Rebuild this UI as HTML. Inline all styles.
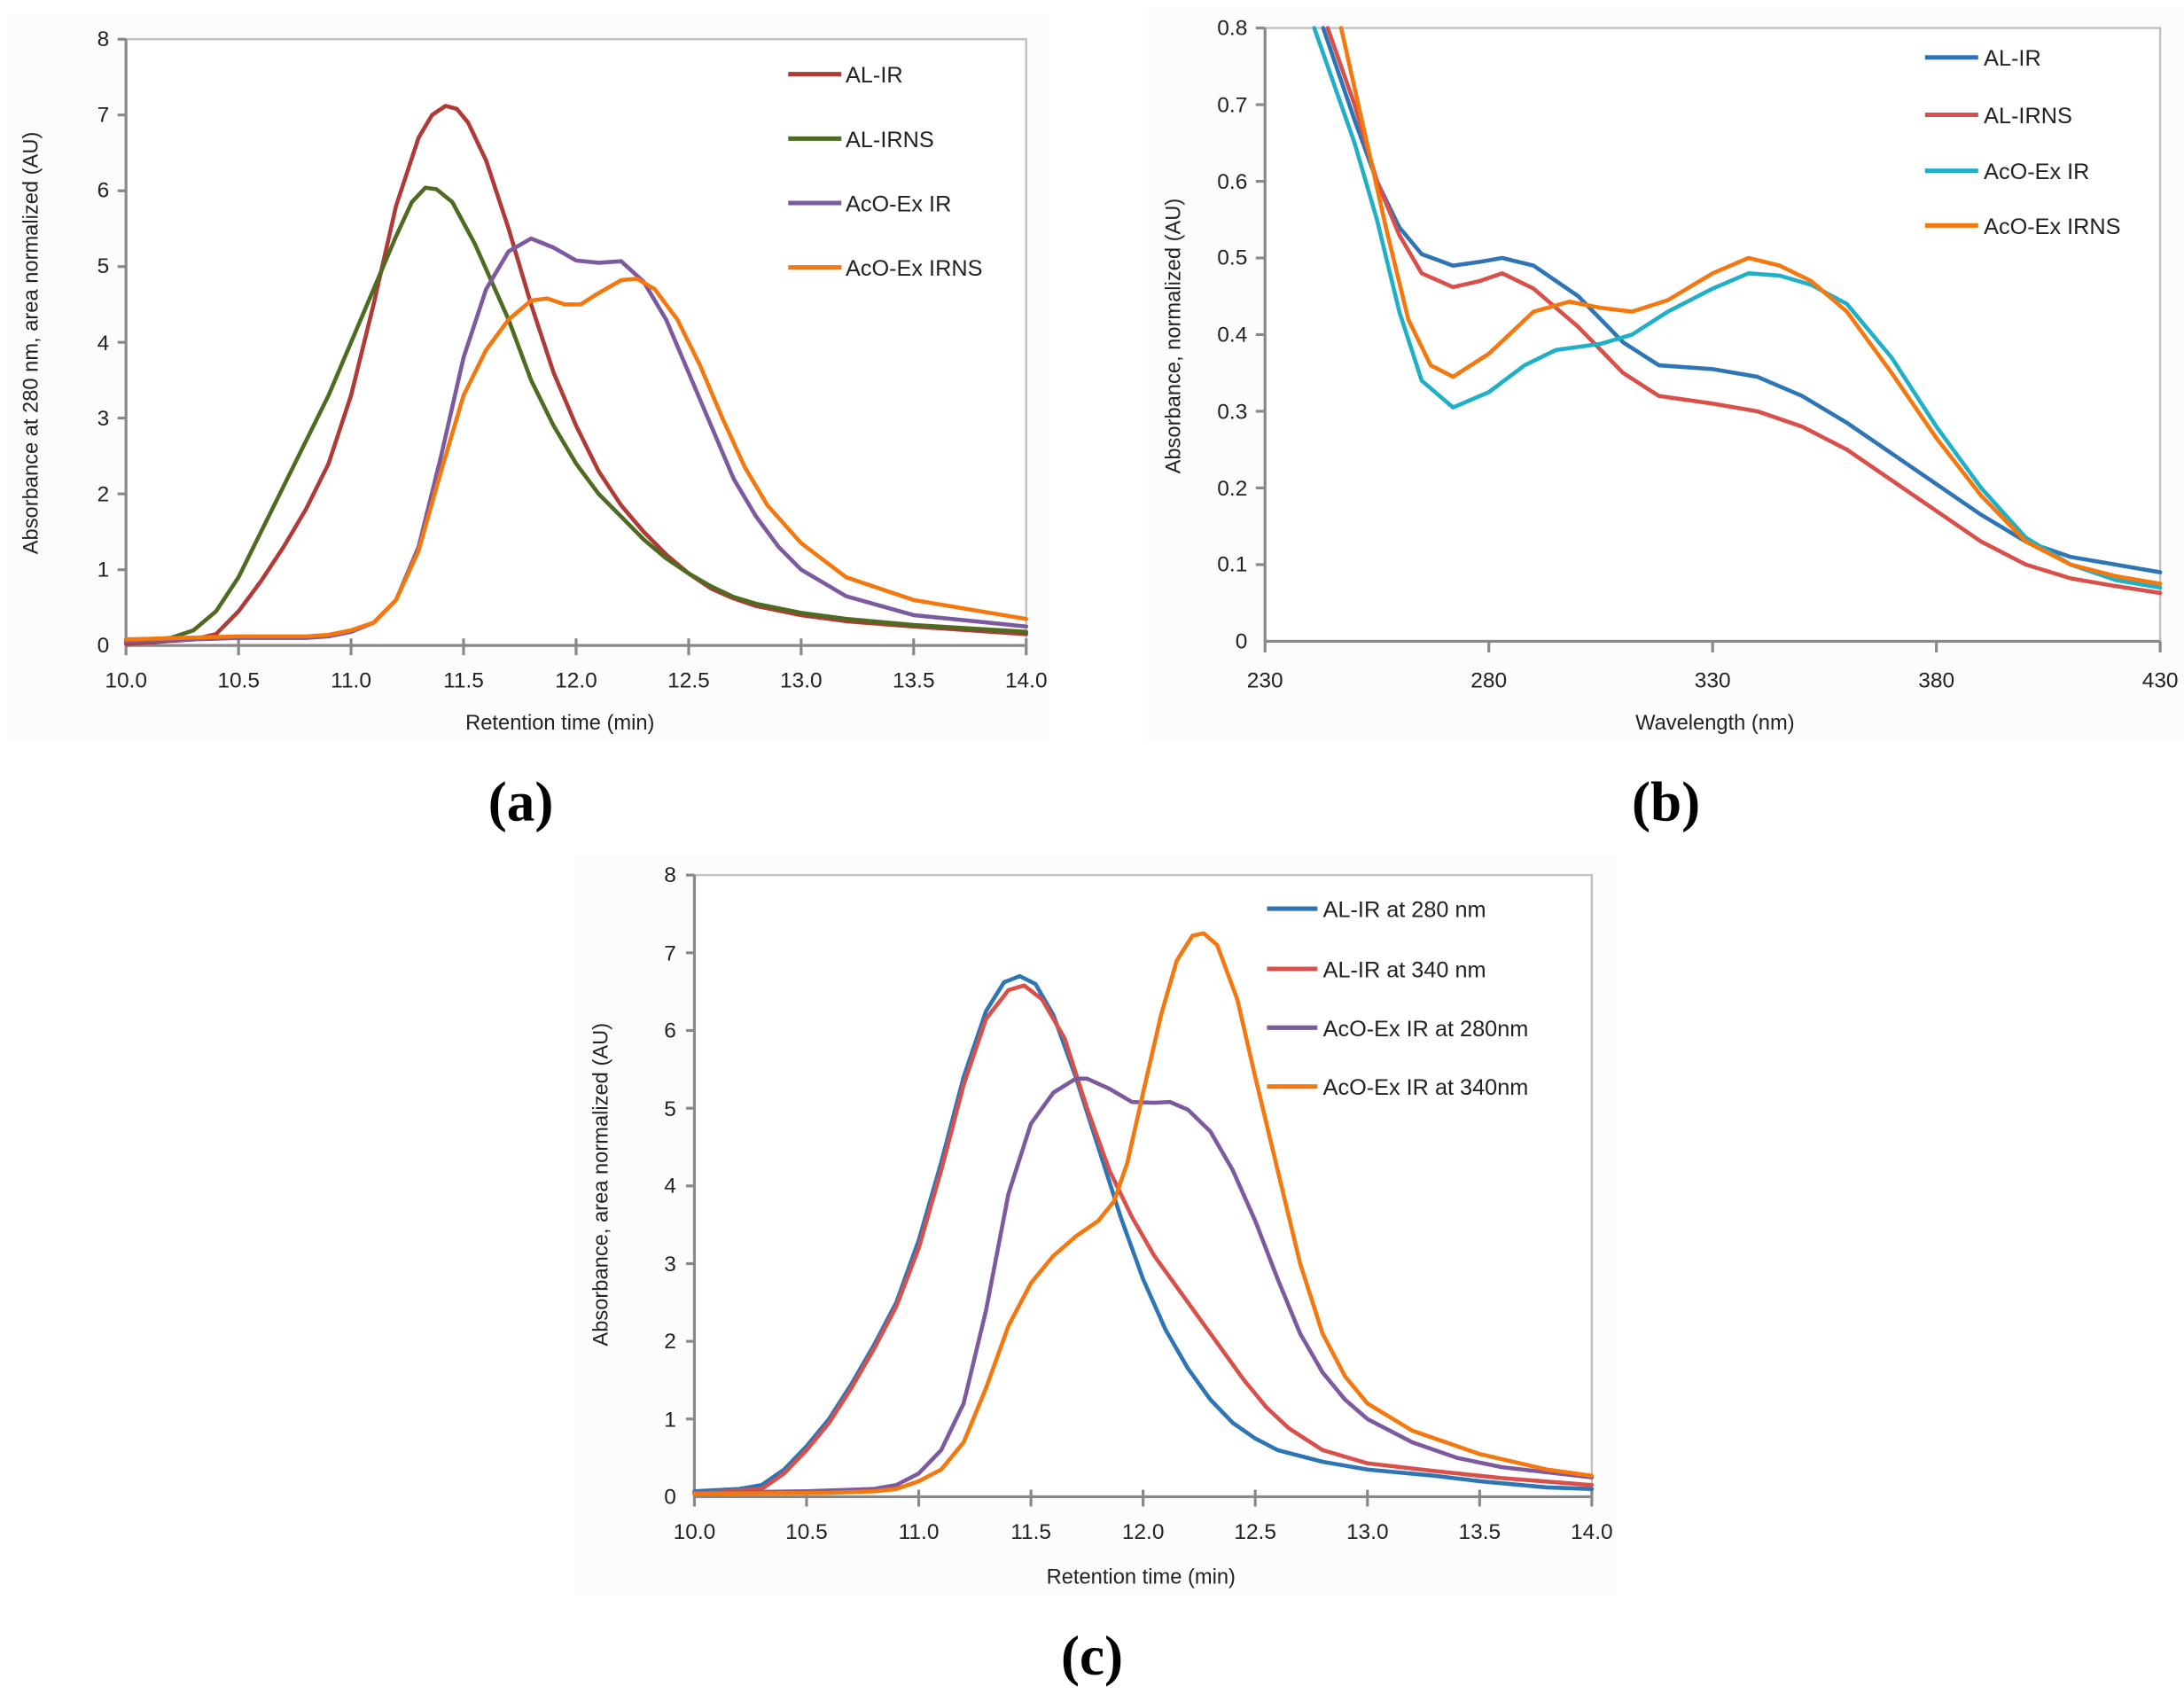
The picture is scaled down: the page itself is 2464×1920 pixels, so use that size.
<!DOCTYPE html>
<html><head><meta charset="utf-8"><style>
html,body{margin:0;padding:0;background:#fff}
svg{display:block}
text{font-family:"Liberation Sans",sans-serif;fill:#222}
.t{font-size:15.5px}
.ax{font-size:15px}
.lg{font-size:16px}
.lab{font-family:"Liberation Serif",serif;font-weight:bold;font-size:40px;fill:#000}
.c{fill:none;stroke-width:4.6;stroke-linejoin:round;stroke-linecap:round}
</style></head><body>
<svg width="2464" height="1920" viewBox="0 0 1560 1215.6" xmlns="http://www.w3.org/2000/svg">
<rect x="0" y="0" width="1560" height="1215.6" fill="#fff"/>
<rect x="5" y="10" width="745" height="520" fill="#fcfcfc"/>
<rect x="820" y="5" width="740" height="525" fill="#fcfcfc"/>
<rect x="410" y="610" width="745" height="530" fill="#fcfcfc"/>
<!-- ========== Plot A ========== -->
<rect x="90" y="28" width="643" height="433" fill="#fff" stroke="#c0c0c0" stroke-width="1.5"/>
<g stroke="#888" stroke-width="2">
<line x1="90" y1="28" x2="90" y2="461"/><line x1="90" y1="461" x2="733" y2="461"/>
<line x1="90" y1="461" x2="90" y2="468"/><line x1="170.4" y1="456" x2="170.4" y2="468"/><line x1="250.75" y1="456" x2="250.75" y2="468"/><line x1="331.1" y1="456" x2="331.1" y2="468"/><line x1="411.5" y1="456" x2="411.5" y2="468"/><line x1="491.9" y1="456" x2="491.9" y2="468"/><line x1="572.25" y1="456" x2="572.25" y2="468"/><line x1="652.6" y1="456" x2="652.6" y2="468"/><line x1="733" y1="456" x2="733" y2="468"/>
<line x1="84" y1="406.9" x2="90" y2="406.9"/><line x1="84" y1="352.75" x2="90" y2="352.75"/><line x1="84" y1="298.6" x2="90" y2="298.6"/><line x1="84" y1="244.5" x2="90" y2="244.5"/><line x1="84" y1="190.4" x2="90" y2="190.4"/><line x1="84" y1="136.25" x2="90" y2="136.25"/><line x1="84" y1="82.1" x2="90" y2="82.1"/><line x1="84" y1="28" x2="90" y2="28"/>
</g>
<g class="t" text-anchor="end">
<text x="78" y="466">0</text><text x="78" y="412">1</text><text x="78" y="358">2</text><text x="78" y="304">3</text><text x="78" y="250">4</text><text x="78" y="195">5</text><text x="78" y="141">6</text><text x="78" y="87">7</text><text x="78" y="33">8</text>
</g>
<g class="t" text-anchor="middle">
<text x="90" y="491">10.0</text><text x="170.4" y="491">10.5</text><text x="250.75" y="491">11.0</text><text x="331.1" y="491">11.5</text><text x="411.5" y="491">12.0</text><text x="491.9" y="491">12.5</text><text x="572.25" y="491">13.0</text><text x="652.6" y="491">13.5</text><text x="733" y="491">14.0</text>
</g>
<text class="ax" x="400" y="521" text-anchor="middle">Retention time (min)</text>
<text class="ax" transform="translate(27,245) rotate(-90)" text-anchor="middle">Absorbance at 280 nm, area normalized (AU)</text>
<g transform="translate(90,461) scale(160.75,-54.125) translate(-10,0)">
<polyline class="c" vector-effect="non-scaling-stroke" stroke="#b03a36" points="10,0.02 10.3,0.08 10.4,0.15 10.5,0.45 10.6,0.85 10.7,1.3 10.8,1.8 10.9,2.4 11,3.3 11.1,4.5 11.2,5.8 11.3,6.7 11.36,7.0 11.42,7.12 11.47,7.08 11.52,6.9 11.6,6.4 11.7,5.5 11.8,4.5 11.9,3.6 12,2.9 12.1,2.3 12.2,1.85 12.3,1.5 12.4,1.2 12.5,0.95 12.6,0.75 12.7,0.62 12.8,0.52 13,0.4 13.2,0.32 13.5,0.25 14,0.15"/>
<polyline class="c" vector-effect="non-scaling-stroke" stroke="#4f6b22" points="10,0.05 10.2,0.1 10.3,0.2 10.4,0.45 10.5,0.9 10.6,1.5 10.7,2.1 10.8,2.7 10.9,3.3 11,4.0 11.1,4.7 11.2,5.4 11.27,5.85 11.33,6.04 11.38,6.02 11.45,5.85 11.55,5.3 11.7,4.3 11.8,3.5 11.9,2.9 12,2.4 12.1,2.0 12.2,1.7 12.3,1.4 12.4,1.15 12.5,0.95 12.6,0.78 12.7,0.64 12.8,0.55 13,0.43 13.2,0.35 13.5,0.27 14,0.18"/>
<polyline class="c" vector-effect="non-scaling-stroke" stroke="#7d5aa0" points="10,0.05 10.5,0.1 10.8,0.1 10.9,0.12 11,0.18 11.1,0.3 11.2,0.6 11.3,1.3 11.4,2.5 11.5,3.8 11.6,4.7 11.7,5.2 11.8,5.37 11.9,5.25 12,5.08 12.1,5.05 12.2,5.07 12.3,4.8 12.4,4.3 12.5,3.6 12.6,2.9 12.7,2.2 12.8,1.7 12.9,1.3 13,1.0 13.2,0.65 13.5,0.4 14,0.25"/>
<polyline class="c" vector-effect="non-scaling-stroke" stroke="#f5780f" points="10,0.08 10.5,0.12 10.8,0.12 10.9,0.14 11,0.2 11.1,0.3 11.2,0.6 11.3,1.25 11.4,2.3 11.5,3.3 11.6,3.9 11.7,4.3 11.8,4.55 11.87,4.58 11.95,4.5 12.02,4.5 12.1,4.65 12.2,4.82 12.27,4.84 12.35,4.7 12.45,4.3 12.55,3.7 12.65,3.0 12.75,2.35 12.85,1.85 13,1.35 13.2,0.9 13.5,0.6 14,0.35"/>
</g>
<g stroke-width="3.2">
<line x1="563" y1="53" x2="601" y2="53" stroke="#b03a36"/>
<line x1="563" y1="99" x2="601" y2="99" stroke="#4f6b22"/>
<line x1="563" y1="145" x2="601" y2="145" stroke="#7d5aa0"/>
<line x1="563" y1="191" x2="601" y2="191" stroke="#f5780f"/>
</g>
<g class="lg"><text x="604" y="59">AL-IR</text><text x="604" y="105">AL-IRNS</text><text x="604" y="151">AcO-Ex IR</text><text x="604" y="197">AcO-Ex IRNS</text></g>
<text class="lab" x="372" y="586" text-anchor="middle">(a)</text>

<!-- ========== Plot B ========== -->
<rect x="903.6" y="20" width="639.4" height="438" fill="#fff" stroke="#c0c0c0" stroke-width="1.5"/>
<g stroke="#888" stroke-width="2">
<line x1="903.6" y1="20" x2="903.6" y2="458"/><line x1="903.6" y1="458" x2="1543" y2="458"/>
<line x1="903.6" y1="458" x2="903.6" y2="466"/><line x1="1063.45" y1="458" x2="1063.45" y2="466"/><line x1="1223.3" y1="458" x2="1223.3" y2="466"/><line x1="1383.15" y1="458" x2="1383.15" y2="466"/><line x1="1543" y1="458" x2="1543" y2="466"/>
<line x1="897" y1="403.25" x2="903.6" y2="403.25"/><line x1="897" y1="348.5" x2="903.6" y2="348.5"/><line x1="897" y1="293.75" x2="903.6" y2="293.75"/><line x1="897" y1="239" x2="903.6" y2="239"/><line x1="897" y1="184.25" x2="903.6" y2="184.25"/><line x1="897" y1="129.5" x2="903.6" y2="129.5"/><line x1="897" y1="74.75" x2="903.6" y2="74.75"/><line x1="897" y1="20" x2="903.6" y2="20"/>
</g>
<g class="t" text-anchor="end">
<text x="891" y="463">0</text><text x="891" y="408">0.1</text><text x="891" y="354">0.2</text><text x="891" y="299">0.3</text><text x="891" y="244">0.4</text><text x="891" y="189">0.5</text><text x="891" y="135">0.6</text><text x="891" y="80">0.7</text><text x="891" y="25">0.8</text>
</g>
<g class="t" text-anchor="middle">
<text x="903.6" y="491">230</text><text x="1063.45" y="491">280</text><text x="1223.3" y="491">330</text><text x="1383.15" y="491">380</text><text x="1543" y="491">430</text>
</g>
<text class="ax" x="1225" y="521" text-anchor="middle">Wavelength (nm)</text>
<text class="ax" transform="translate(843,240) rotate(-90)" text-anchor="middle">Absorbance, normalized (AU)</text>
<g transform="translate(903.6,458) scale(3.197,-547.5) translate(-230,0)">
<polyline class="c" vector-effect="non-scaling-stroke" stroke="#2e75b6" points="243,0.8 250,0.68 255,0.6 260,0.54 265,0.505 272,0.49 278,0.495 283,0.5 290,0.49 300,0.45 310,0.39 318,0.36 330,0.355 340,0.345 350,0.32 360,0.285 370,0.245 380,0.205 390,0.165 400,0.13 410,0.11 420,0.1 430,0.09"/>
<polyline class="c" vector-effect="non-scaling-stroke" stroke="#d9504a" points="244,0.8 250,0.7 255,0.6 260,0.53 265,0.48 272,0.462 278,0.47 283,0.48 290,0.46 300,0.41 310,0.35 318,0.32 330,0.31 340,0.3 350,0.28 360,0.25 370,0.21 380,0.17 390,0.13 400,0.1 410,0.082 420,0.072 430,0.063"/>
<polyline class="c" vector-effect="non-scaling-stroke" stroke="#1fb0c8" points="241,0.8 250,0.65 255,0.55 260,0.43 265,0.34 272,0.305 280,0.325 288,0.36 295,0.38 305,0.388 312,0.4 320,0.43 330,0.46 338,0.48 345,0.477 352,0.465 360,0.44 370,0.37 380,0.28 390,0.2 400,0.135 410,0.1 420,0.08 430,0.07"/>
<polyline class="c" vector-effect="non-scaling-stroke" stroke="#f5780f" points="247,0.8 252,0.67 257,0.54 262,0.42 267,0.36 272,0.345 280,0.375 290,0.43 298,0.443 305,0.435 312,0.43 320,0.445 330,0.48 338,0.5 345,0.49 352,0.47 360,0.43 370,0.35 380,0.265 390,0.19 400,0.13 410,0.1 420,0.085 430,0.075"/>
</g>
<g stroke-width="3.2">
<line x1="1375" y1="41" x2="1413" y2="41" stroke="#2e75b6"/>
<line x1="1375" y1="82" x2="1413" y2="82" stroke="#d9504a"/>
<line x1="1375" y1="122" x2="1413" y2="122" stroke="#1fb0c8"/>
<line x1="1375" y1="161" x2="1413" y2="161" stroke="#f5780f"/>
</g>
<g class="lg"><text x="1417" y="47">AL-IR</text><text x="1417" y="88">AL-IRNS</text><text x="1417" y="128">AcO-Ex IR</text><text x="1417" y="167">AcO-Ex IRNS</text></g>
<text class="lab" x="1190" y="586" text-anchor="middle">(b)</text>

<!-- ========== Plot C ========== -->
<rect x="496" y="625" width="641" height="444" fill="#fff" stroke="#c0c0c0" stroke-width="1.5"/>
<g stroke="#888" stroke-width="2">
<line x1="496" y1="625" x2="496" y2="1069"/><line x1="496" y1="1069" x2="1137" y2="1069"/>
<line x1="496" y1="1069" x2="496" y2="1076"/><line x1="576.1" y1="1064" x2="576.1" y2="1076"/><line x1="656.25" y1="1064" x2="656.25" y2="1076"/><line x1="736.4" y1="1064" x2="736.4" y2="1076"/><line x1="816.5" y1="1064" x2="816.5" y2="1076"/><line x1="896.6" y1="1064" x2="896.6" y2="1076"/><line x1="976.75" y1="1064" x2="976.75" y2="1076"/><line x1="1056.9" y1="1064" x2="1056.9" y2="1076"/><line x1="1137" y1="1064" x2="1137" y2="1076"/>
<line x1="490" y1="1013.5" x2="496" y2="1013.5"/><line x1="490" y1="958" x2="496" y2="958"/><line x1="490" y1="902.5" x2="496" y2="902.5"/><line x1="490" y1="847" x2="496" y2="847"/><line x1="490" y1="791.5" x2="496" y2="791.5"/><line x1="490" y1="736" x2="496" y2="736"/><line x1="490" y1="680.5" x2="496" y2="680.5"/><line x1="490" y1="625" x2="496" y2="625"/>
</g>
<g class="t" text-anchor="end">
<text x="483" y="1074">0</text><text x="483" y="1019">1</text><text x="483" y="963">2</text><text x="483" y="908">3</text><text x="483" y="852">4</text><text x="483" y="797">5</text><text x="483" y="741">6</text><text x="483" y="686">7</text><text x="483" y="630">8</text>
</g>
<g class="t" text-anchor="middle">
<text x="496" y="1099">10.0</text><text x="576.1" y="1099">10.5</text><text x="656.25" y="1099">11.0</text><text x="736.4" y="1099">11.5</text><text x="816.5" y="1099">12.0</text><text x="896.6" y="1099">12.5</text><text x="976.75" y="1099">13.0</text><text x="1056.9" y="1099">13.5</text><text x="1137" y="1099">14.0</text>
</g>
<text class="ax" x="815" y="1131" text-anchor="middle">Retention time (min)</text>
<text class="ax" transform="translate(434,846) rotate(-90)" text-anchor="middle">Absorbance, area normalized (AU)</text>
<g transform="translate(496,1069) scale(160.25,-55.5) translate(-10,0)">
<polyline class="c" vector-effect="non-scaling-stroke" stroke="#2e75b6" points="10,0.07 10.2,0.1 10.3,0.15 10.4,0.35 10.5,0.65 10.6,1.0 10.7,1.45 10.8,1.95 10.9,2.5 11,3.3 11.1,4.3 11.2,5.4 11.3,6.25 11.38,6.62 11.45,6.7 11.52,6.6 11.6,6.2 11.7,5.4 11.8,4.5 11.9,3.6 12,2.8 12.1,2.15 12.2,1.65 12.3,1.25 12.4,0.95 12.5,0.75 12.6,0.6 12.8,0.45 13,0.35 13.3,0.27 13.5,0.2 13.8,0.12 14,0.1"/>
<polyline class="c" vector-effect="non-scaling-stroke" stroke="#d9504a" points="10,0.04 10.3,0.1 10.4,0.3 10.5,0.6 10.6,0.95 10.7,1.4 10.8,1.9 10.9,2.45 11,3.2 11.1,4.2 11.2,5.3 11.3,6.15 11.4,6.52 11.47,6.58 11.55,6.4 11.65,5.9 11.75,5.0 11.85,4.2 11.95,3.6 12.05,3.1 12.15,2.7 12.25,2.3 12.35,1.9 12.45,1.5 12.55,1.15 12.65,0.88 12.8,0.6 13,0.43 13.3,0.33 13.6,0.24 14,0.15"/>
<polyline class="c" vector-effect="non-scaling-stroke" stroke="#7d5aa0" points="10,0.05 10.5,0.07 10.8,0.1 10.9,0.15 11,0.3 11.1,0.6 11.2,1.2 11.3,2.4 11.4,3.9 11.5,4.8 11.6,5.2 11.7,5.38 11.75,5.38 11.85,5.25 11.95,5.08 12.05,5.07 12.12,5.08 12.2,4.98 12.3,4.7 12.4,4.2 12.5,3.55 12.6,2.8 12.7,2.1 12.8,1.6 12.9,1.25 13,1.0 13.2,0.7 13.4,0.5 13.6,0.38 14,0.25"/>
<polyline class="c" vector-effect="non-scaling-stroke" stroke="#f5780f" points="10,0.04 10.6,0.05 10.8,0.07 10.9,0.1 11,0.2 11.1,0.35 11.2,0.7 11.3,1.4 11.4,2.2 11.5,2.75 11.6,3.1 11.7,3.35 11.8,3.55 11.87,3.8 11.93,4.3 12,5.2 12.08,6.2 12.15,6.9 12.22,7.22 12.27,7.25 12.33,7.1 12.42,6.4 12.5,5.4 12.6,4.2 12.7,3.0 12.8,2.1 12.9,1.55 13,1.2 13.2,0.85 13.5,0.55 13.8,0.35 14,0.27"/>
</g>
<g stroke-width="3.2">
<line x1="905" y1="649" x2="941" y2="649" stroke="#2e75b6"/>
<line x1="905" y1="692" x2="941" y2="692" stroke="#d9504a"/>
<line x1="905" y1="734" x2="941" y2="734" stroke="#7d5aa0"/>
<line x1="905" y1="776" x2="941" y2="776" stroke="#f5780f"/>
</g>
<g class="lg"><text x="945" y="655">AL-IR at 280 nm</text><text x="945" y="698">AL-IR at 340 nm</text><text x="945" y="740">AcO-Ex IR at 280nm</text><text x="945" y="782">AcO-Ex IR at 340nm</text></g>
<text class="lab" x="780" y="1196" text-anchor="middle">(c)</text>
</svg>
</body></html>
